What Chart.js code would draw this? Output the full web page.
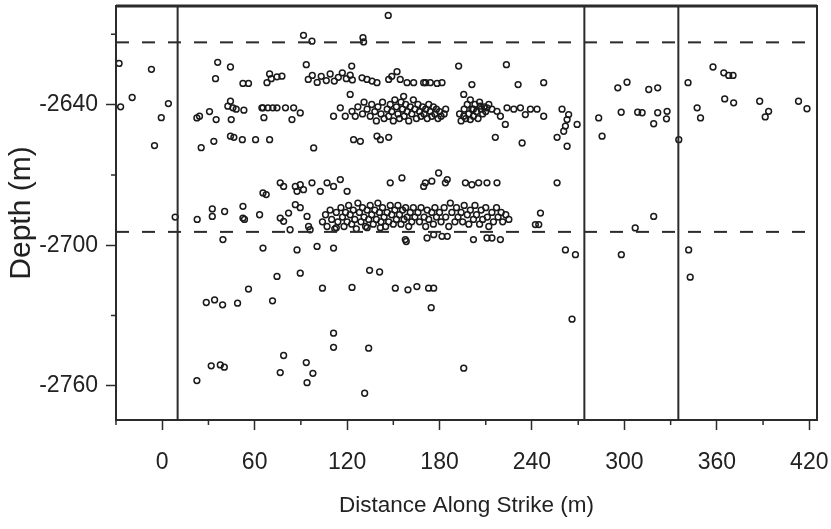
<!DOCTYPE html>
<html>
<head>
<meta charset="utf-8">
<script src="https://cdn.jsdelivr.net/npm/chart.js@4.4.1/dist/chart.umd.min.js"></script>
<style>
  body { margin: 0; background: #fff; }
  #wrap { width: 831px; height: 529px; }
</style>
</head>
<body>
<div id="wrap"><canvas id="quakes"></canvas></div>
<script>
// axis ranges and tick labels
var xRange = [-30, 425];
var yRange = [-2774.5, -2598];
var xTicks = [0, 60, 120, 180, 240, 300, 360, 420];
var yTicks = [-2640, -2700, -2760];

// fault boundaries (distance, m) and reservoir top/bottom (depth, m)
var faultLines = [10, 274, 335];
var dashedDepths = [-2613.5, -2694.3];

// events, [distance, depth]
var westEvents = [
  [-28,-2622.5],[-27,-2641],[-19.5,-2637],[-7,-2625],[-5,-2657.5],[-0.6,-2645.6],[4,-2639.6],[8.4,-2688]
];

var upperRow = [
  [36,-2622],[44.3,-2624],[34.6,-2629],[52.4,-2631],[56,-2631],[68,-2630.7],[69.7,-2627],[70.8,-2629],
  [74.5,-2628.2],[77.7,-2627.9],[91.7,-2610.5],[97.2,-2613],[130.3,-2611.5],[130.7,-2613.3],[146.7,-2602],
  [93.5,-2623],[94.8,-2629.3],[97.4,-2627.6],[100.6,-2630.6],[103.2,-2628],[106.5,-2629.8],[109,-2627],
  [111.7,-2630],[114.3,-2628.4],[116.9,-2626.5],[119.5,-2629],[122,-2627.5],[123,-2623.6],[123.4,-2629.5],
  [129.7,-2628.6],[132.9,-2629.3],[136.2,-2630],[139.4,-2630.7],[147,-2629.3],[149,-2628],[152.4,-2626],
  [154.5,-2629.3],[158.9,-2630.7],[163.2,-2630.7],[169.7,-2630.7],[171,-2630.7],[174,-2630.7],[178.4,-2631],
  [181.6,-2630.7],[192.4,-2623.6],[195.7,-2635.7],[201,-2631.5],[223.4,-2623],[231,-2631.5],[247.6,-2630.7],
  [122,-2635.7]
];

var middleRow = [
  [24.2,-2645],[30.7,-2643],[35,-2646.4],[44.3,-2638.6],[45.9,-2641.4],[48,-2642],[53,-2642.4],[44.8,-2646.4],
  [65.4,-2641.4],[68.6,-2641.4],[71.8,-2641.4],[66,-2645.6],[22.5,-2645.7],[42.6,-2640.7],[64.7,-2641.4],
  [74.5,-2641.4],[80,-2641.4],[85.3,-2641.4],[84.2,-2646.4],[89.6,-2643.6],[111.2,-2645],[115.6,-2641.4],
  [118.8,-2645],[123.2,-2642.9],[125.3,-2645],[127,-2641],[130,-2644],[131,-2639],
  [44.3,-2653.5],[46.5,-2654],[52,-2655],[60.6,-2655],[69.7,-2655],[33.5,-2655.7],[25.3,-2658.4],[98.3,-2658.5],
  [124.2,-2655],[128.6,-2655.7],[139.4,-2653.5],[141.6,-2655],[147,-2654],[156.7,-2636.5],
  [195.7,-2645],[200,-2646.4],[202,-2642],[206.5,-2640.7],[210.8,-2641.4],[214,-2642],[217.3,-2642.9],
  [219.5,-2645],[223.8,-2641.4],[222.7,-2648.5],[228.2,-2642],[232.5,-2641.4],[235.7,-2644.3],[239,-2642],
  [243.3,-2642],[247.6,-2645],[259.5,-2642],[263.8,-2644.3],[262.8,-2646.4],[261.7,-2649.2],[260.6,-2651.4],
  [269.3,-2648.5],[216.2,-2654],[233.6,-2656.4],[256.3,-2654],[262.8,-2657.8]
];

var middleCluster = [
  [133,-2642],[135,-2645],[136,-2640],[138,-2643],[139,-2647],[140,-2641],[142,-2644],[143,-2639],[144,-2646],
  [146,-2642],[147,-2645],[148,-2640],[149,-2643],[150,-2647],[151,-2638],[152,-2641],[153,-2644],[154,-2646],
  [155,-2639],[156,-2642],[157,-2645],[158,-2640],[159,-2643],[160,-2647],[161,-2641],[162,-2644],[163,-2638],
  [164,-2642],[165,-2646],[166,-2640],[167,-2643],[168,-2645],[169,-2641],[170,-2644],[171,-2642],[172,-2646],
  [173,-2640],[174,-2643],[175,-2645],[176,-2641],[177,-2644],[178,-2642],[179,-2646],[180,-2643],[181,-2645],
  [183,-2644],[184,-2642],[193,-2644],[194,-2647],[196,-2642],[197,-2646],[198,-2640],[199,-2644],[200,-2638],
  [201,-2642],[202,-2645],[203,-2640],[204,-2643],[205,-2646],[206,-2639],[207,-2642],[208,-2644],[209,-2641],
  [210,-2643],[212,-2640]
];

var lowerRow = [
  [22.7,-2689],[32.5,-2684.5],[32.5,-2687.7],[40.5,-2685.6],[39.4,-2697.6],[52.4,-2683.4],[52.4,-2688.4],
  [53.4,-2689],[63.2,-2687],[65.4,-2677.7],[67.5,-2678.4],[65.4,-2701.2],
  [76.6,-2673.4],[78.8,-2674.9],[86.4,-2674.9],[89.6,-2674.2],[87.5,-2677],[91.7,-2676.3],[97.2,-2673.4],
  [102.6,-2677],[107,-2673.4],[111.2,-2674.9],[115.6,-2672],[120,-2677],
  [76.6,-2688.4],[78.8,-2689.8],[82,-2686.3],[86.4,-2682.7],[89.6,-2684],[94,-2687.7],[95,-2692],
  [87.5,-2702],[100.5,-2700.5],[111.2,-2701.2],[83,-2693.4],[96,-2693.4],[113,-2692.5],[133,-2692.5],[141.6,-2692.5],
  [148,-2673.4],[155.6,-2671.3],[169.7,-2674.9],[157.8,-2697.6],
  [170.8,-2673.4],[175,-2672.7],[179.4,-2669.2],[183.8,-2673.4],[185,-2672],[196.8,-2673.4],[201,-2674.2],
  [205.4,-2673.4],[210.8,-2673.4],[217.3,-2673.4],[256.3,-2673.4],[245.5,-2686.3],[242.2,-2691.2],[244.4,-2691.2],
  [171.9,-2696.9],[176.2,-2695.5],[181.6,-2696.2],[185,-2696.2],[202,-2697.6],[210.8,-2696.9],[214,-2696.9],
  [219.5,-2697.6],[261.7,-2702],[268.2,-2704]
];

var lowerCluster = [
  [104,-2690],[106,-2687],[107,-2692],[109,-2685],[110,-2689],[112,-2693],[113,-2686],[114,-2690],[116,-2684],
  [117,-2688],[118,-2692],[119,-2686],[120,-2690],[121,-2683],[122,-2687],[123,-2691],[124,-2685],[125,-2689],
  [126,-2693],[127,-2682],[128,-2686],[129,-2690],[130,-2684],[131,-2688],[132,-2692],[133,-2685],[134,-2689],
  [135,-2683],[136,-2687],[137,-2691],[138,-2685],[139,-2689],[140,-2682],[141,-2686],[142,-2690],[143,-2684],
  [144,-2688],[145,-2692],[146,-2686],[147,-2690],[148,-2683],[149,-2687],[150,-2691],[151,-2685],[152,-2689],
  [153,-2683],[154,-2687],[155,-2691],[156,-2685],[157,-2689],[158,-2684],[159,-2688],[160,-2692],[161,-2686],
  [162,-2690],[163,-2684],[164,-2688],[166,-2686],[167,-2690],[168,-2684],[170,-2688],[171,-2692],[172,-2685],
  [173,-2689],[175,-2686],[176,-2691],[177,-2684],[178,-2688],[180,-2686],[181,-2690],[183,-2684],[184,-2688],
  [186,-2692],[187,-2682],[188,-2686],[190,-2690],[191,-2684],[192,-2688],[194,-2686],[195,-2690],[196,-2683],
  [198,-2687],[199,-2691],[200,-2685],[202,-2689],[203,-2683],[204,-2687],[206,-2691],[207,-2685],[208,-2689],
  [210,-2684],[211,-2688],[212,-2692],[214,-2686],[215,-2690],[217,-2684],[218,-2688],[220,-2686],[221,-2690],
  [223,-2687],[225,-2689]
];

var deepEvents = [
  [158.4,-2698.4],[74.5,-2713.3],[89.6,-2711.9],[134.6,-2710.7],[141.1,-2711.4],[56,-2718.7],[28.6,-2724.4],
  [34,-2723.3],[39.2,-2725.4],[48.9,-2724.7],[71.6,-2723.7],[104,-2718.3],[123.2,-2718],[151.3,-2718.3],
  [159.5,-2719],[165.3,-2717.6],[172.9,-2718.3],[176.2,-2718.3],[174.6,-2726.6],[111.2,-2737.5],[111.2,-2743.5],
  [134,-2743.9],[78.8,-2747],[93.5,-2750],[31.8,-2751.4],[37.7,-2751],[40.3,-2752],[76.6,-2754.3],[97.8,-2754.6],
  [94,-2758.6],[22.5,-2757.7],[131.4,-2763.1],[195.7,-2752.4],[266,-2731.5]
];

var eastEvents = [
  [283.3,-2645.7],[285.5,-2653.5],[295.7,-2632.9],[301.7,-2630.5],[297.9,-2643.3],[308.6,-2643.3],[311.5,-2643.5],
  [315.8,-2633.6],[321.6,-2632.9],[321.6,-2643.5],[319,-2648.2],[327.7,-2642.9],[327.3,-2646.1],[335.3,-2655],
  [341.3,-2630.7],[347.2,-2641.4],[349.4,-2645.7],[357.5,-2624],[364.5,-2626.5],[367.7,-2627.6],[370.5,-2627.6],
  [365.1,-2637.6],[370.9,-2639.3],[387.8,-2638.6],[393.6,-2642.9],[391.4,-2645.3],[413,-2638.6],[418.5,-2641.8],
  [319,-2687.7],[307,-2692.6],[298,-2704],[341.7,-2702],[342.7,-2713.6]
];

var allEvents = [].concat(westEvents, upperRow, middleRow, middleCluster, lowerRow, lowerCluster, deepEvents, eastEvents)
  .map(function (p) { return { x: p[0], y: p[1] }; });

var ink = '#2b2b2b';
var fontFamily = "'Liberation Sans', Arial, sans-serif";

var datasets = [];
faultLines.forEach(function (d) {
  datasets.push({
    type: 'line', data: [{ x: d, y: yRange[0] }, { x: d, y: yRange[1] }],
    borderColor: ink, borderWidth: 2, pointRadius: 0, showLine: true
  });
});
dashedDepths.forEach(function (d) {
  datasets.push({
    type: 'line', data: [{ x: xRange[0], y: d }, { x: xRange[1], y: d }],
    borderColor: ink, borderWidth: 2, borderDash: [13, 13], pointRadius: 0, showLine: true
  });
});
datasets.push({
  data: allEvents,
  pointStyle: 'circle',
  pointRadius: 2.9,
  borderWidth: 1.5,
  borderColor: '#1a1a1a',
  backgroundColor: 'rgba(255,255,255,0)'
});

// box round the plot plus the short minor ticks
var frame = {
  id: 'frame',
  afterDraw: function (chart) {
    var ctx = chart.ctx, a = chart.chartArea;
    var xs = chart.scales.x, ys = chart.scales.y;
    ctx.save();
    ctx.strokeStyle = ink;
    ctx.lineWidth = 2;
    ctx.strokeRect(a.left, a.top, a.right - a.left, a.bottom - a.top);
    ctx.beginPath();
    ctx.moveTo(a.left, a.top); ctx.lineTo(a.right, a.top);
    ctx.lineWidth = 3;
    ctx.stroke();
    ctx.lineWidth = 1.5;
    ctx.beginPath();
    xs.ticks.forEach(function (t) {
      if (xTicks.indexOf(t.value) < 0) {
        var px = xs.getPixelForValue(t.value);
        ctx.moveTo(px, a.bottom); ctx.lineTo(px, a.bottom + 5);
      }
    });
    ys.ticks.forEach(function (t) {
      if (yTicks.indexOf(t.value) < 0) {
        var py = ys.getPixelForValue(t.value);
        ctx.moveTo(a.left, py); ctx.lineTo(a.left - 5, py);
      }
    });
    ctx.stroke();
    ctx.restore();
  }
};

var ctx = document.getElementById('quakes').getContext('2d');
new Chart(ctx, {
  type: 'scatter',
  data: { datasets: datasets },
  plugins: [frame],
  options: {
    responsive: true,
    maintainAspectRatio: false,
    animation: false,
    layout: { padding: { top: 6, right: 14, left: 0, bottom: 0 } },
    plugins: { legend: { display: false }, tooltip: { enabled: false } },
    scales: {
      x: {
        type: 'linear', min: xRange[0], max: xRange[1],
        afterFit: function (s) { s.height = 109; s.paddingLeft = 0; s.paddingRight = 0; },
        border: { color: ink, width: 2 },
        grid: {
          drawOnChartArea: false, tickLength: 10, tickWidth: 1.5,
          tickColor: function (c) { return c.tick && xTicks.indexOf(c.tick.value) >= 0 ? ink : 'rgba(0,0,0,0)'; }
        },
        ticks: {
          stepSize: 30, includeBounds: false, autoSkip: false, maxRotation: 0, padding: 19,
          color: '#222', font: { family: fontFamily, size: 23 },
          callback: function (v) { return xTicks.indexOf(v) >= 0 ? String(v) : ''; }
        },
        title: {
          display: true, text: 'Distance Along Strike (m)', color: '#222',
          font: { family: fontFamily, size: 22.5 }, padding: { top: 0, bottom: 10 }
        }
      },
      y: {
        type: 'linear', min: yRange[0], max: yRange[1],
        afterFit: function (s) { s.width = 116; s.paddingTop = 0; s.paddingBottom = 0; },
        border: { color: ink, width: 2 },
        grid: {
          drawOnChartArea: false, tickLength: 10, tickWidth: 1.5,
          tickColor: function (c) { return c.tick && yTicks.indexOf(c.tick.value) >= 0 ? ink : 'rgba(0,0,0,0)'; }
        },
        ticks: {
          stepSize: 30, includeBounds: false, autoSkip: false, padding: 8,
          color: '#222', font: { family: fontFamily, size: 23 },
          callback: function (v) { return yTicks.indexOf(v) >= 0 ? String(v) : ''; }
        },
        title: {
          display: true, text: 'Depth (m)', color: '#222',
          font: { family: fontFamily, size: 30 }, padding: { top: 4, bottom: 0 }
        }
      }
    }
  }
});
</script>
</body>
</html>
